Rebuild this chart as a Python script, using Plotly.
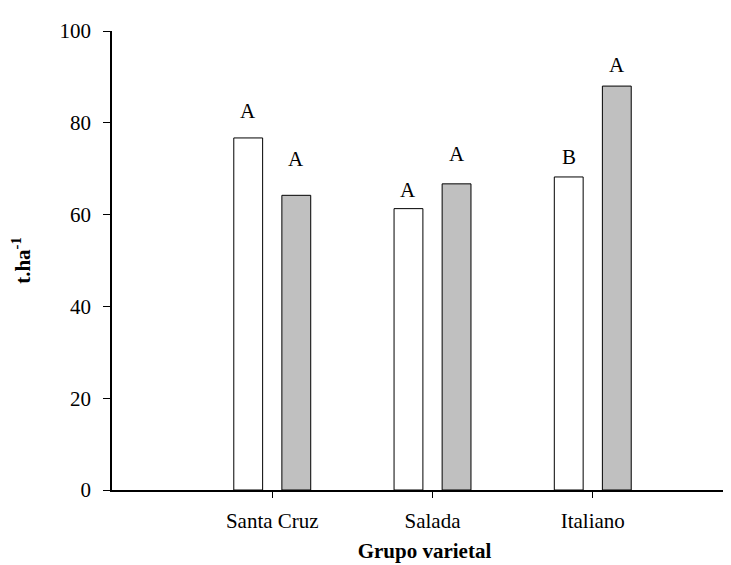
import plotly.graph_objects as go

# Data
categories = ["Santa Cruz", "Salada", "Italiano"]
series_white = [76.7, 61.3, 68.2]
series_gray = [64.2, 66.7, 88.0]
letters_white = ["A", "A", "B"]
letters_gray = ["A", "A", "A"]
label_heights_white = [82.6, 65.4, 72.5]
label_heights_gray = [72.2, 73.2, 92.6]
y_ticks = [0, 20, 40, 60, 80, 100]

FONT = "Liberation Serif, Times New Roman, serif"
FS = 21
BAR_W = 0.18

fig = go.Figure()
fig.add_trace(go.Bar(
    x=categories, y=series_white, width=BAR_W, offset=-0.24,
    marker=dict(color="white", line=dict(color="black", width=1)),
    showlegend=False, hoverinfo="skip",
))
fig.add_trace(go.Bar(
    x=categories, y=series_gray, width=BAR_W, offset=0.06,
    marker=dict(color="#c0c0c0", line=dict(color="black", width=1)),
    showlegend=False, hoverinfo="skip",
))

annotations = []
for i, c in enumerate(categories):
    annotations.append(dict(x=i - 0.24 + BAR_W / 2, y=label_heights_white[i], xref="x", yref="y",
                            text=letters_white[i], showarrow=False, yanchor="middle",
                            font=dict(family=FONT, size=FS, color="black")))
    annotations.append(dict(x=i + 0.06 + BAR_W / 2, y=label_heights_gray[i], xref="x", yref="y",
                            text=letters_gray[i], showarrow=False, yanchor="middle",
                            font=dict(family=FONT, size=FS, color="black")))

fig.update_layout(
    width=731, height=565,
    margin=dict(l=104, r=2, t=23, b=83),
    paper_bgcolor="white", plot_bgcolor="white",
    barmode="overlay",
    font=dict(family=FONT, size=FS, color="black"),
    annotations=annotations,
    xaxis=dict(
        type="category", range=[-1.0, 2.9],
        showline=True, linecolor="black", linewidth=1.5,
        ticks="outside", ticklen=6, tickcolor="black", tickwidth=1,
        showgrid=False, zeroline=False,
        tickfont=dict(family=FONT, size=FS, color="black"),
        ticklabelstandoff=5,
        title=dict(text="<b>Grupo varietal</b>", standoff=11,
                   font=dict(family=FONT, size=FS, color="black")),
    ),
    yaxis=dict(
        range=[0, 100], tickvals=y_ticks,
        showline=True, linecolor="black", linewidth=1.5,
        ticks="outside", ticklen=7, tickcolor="black", tickwidth=1,
        showgrid=False, zeroline=False,
        tickfont=dict(family=FONT, size=FS, color="black"),
        ticklabelstandoff=8,
        title=dict(text="<b>t.ha<sup>-1</sup></b>", standoff=24,
                   font=dict(family=FONT, size=FS, color="black")),
    ),
)

fig.write_html("out.html")
